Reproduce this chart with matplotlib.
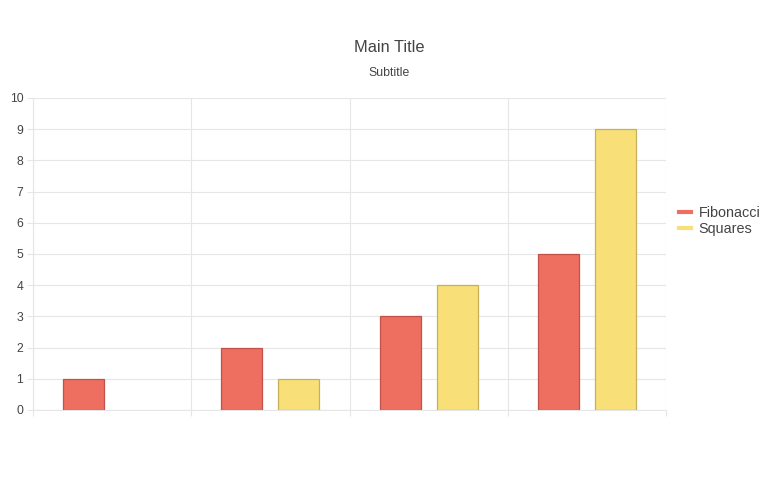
import matplotlib
matplotlib.use("Agg")
import matplotlib.pyplot as plt
import numpy as np
from matplotlib.lines import Line2D

categories = ["A", "B", "C", "D"]
fibonacci = [1, 2, 3, 5]
squares = [0, 1, 4, 9]
y_ticks = list(range(0, 11))

plt.rcParams['font.family'] = ['Liberation Sans', 'DejaVu Sans']

fig = plt.figure(figsize=(7.7, 4.8), dpi=100)
ax = fig.add_axes([33/770, 1-410/480, (666-33)/770, (410-98)/480])

x = np.arange(len(categories))
w = 0.26
off = 0.18
fib_fill, fib_edge = "#EE6E60", "#C2514A"
sq_fill, sq_edge = "#F8DF77", "#C8B05A"
ax.bar(x - off, fibonacci, width=w, color=fib_fill, edgecolor=fib_edge,
       linewidth=[0.9 if v else 0 for v in fibonacci], zorder=3)
ax.bar(x + off, squares, width=w, color=sq_fill, edgecolor=sq_edge,
       linewidth=[0.9 if v else 0 for v in squares], zorder=3)

ax.set_xlim(-0.5, len(categories) - 0.5)
ax.set_ylim(0, 10)
ax.set_yticks(y_ticks)
ax.set_xticks(np.arange(-0.5, len(categories), 1.0))
ax.set_xticklabels([])
ax.grid(True, color="#E6E6E6", linewidth=0.8, zorder=0)
for s in ax.spines.values():
    s.set_visible(False)
ax.spines['left'].set_visible(True)
ax.spines['left'].set_color("#E6E6E6")
ax.spines['bottom'].set_visible(True)
ax.spines['bottom'].set_color("#E6E6E6")
ax.tick_params(axis='both', length=4, color="#E6E6E6", labelsize=8.8, labelcolor="#444444", pad=3)

fig.text(389/770, 1-47/480, "Main Title", ha="center", va="center", fontsize=11.8, color="#444444")
fig.text(389/770, 1-73/480, "Subtitle", ha="center", va="center", fontsize=8.8, color="#444444")

handles = [Line2D([0], [0], color=fib_fill, lw=3), Line2D([0], [0], color=sq_fill, lw=3)]
fig.legend(handles, ["Fibonacci", "Squares"], loc="center left", bbox_to_anchor=(679/770, 1-221/480),
           frameon=False, fontsize=10.4, handlelength=0.8, handletextpad=0.55, labelspacing=0.1,
           labelcolor="#444444", borderpad=0, borderaxespad=0)

fig.savefig("out.png", dpi=100)
